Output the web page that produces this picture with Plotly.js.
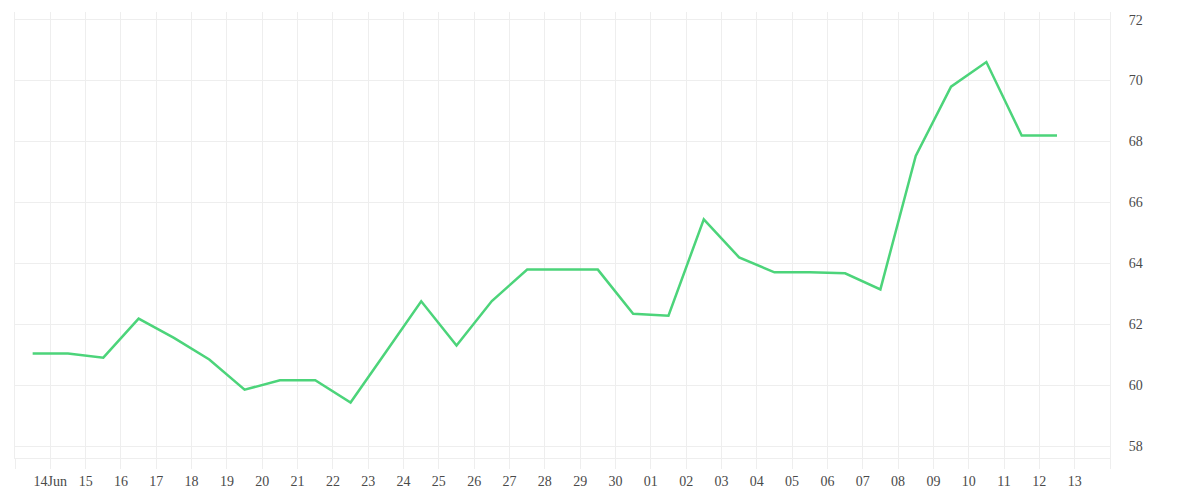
<!DOCTYPE html>
<html>
<head>
<meta charset="utf-8">
<script src="https://cdn.plot.ly/plotly-3.0.1.min.js"></script>
<style>html,body{margin:0;padding:0;background:#fff;}#chart{width:1200px;height:500px;}</style>
</head>
<body>
<div id="chart"></div>
<script>
const dates = ["2024-06-13 12:00","2024-06-14 12:00","2024-06-15 12:00","2024-06-16 12:00","2024-06-17 12:00","2024-06-18 12:00","2024-06-19 12:00","2024-06-20 12:00","2024-06-21 12:00","2024-06-22 12:00","2024-06-23 12:00","2024-06-24 12:00","2024-06-25 12:00","2024-06-26 12:00","2024-06-27 12:00","2024-06-28 12:00","2024-06-29 12:00","2024-06-30 12:00","2024-07-01 12:00","2024-07-02 12:00","2024-07-03 12:00","2024-07-04 12:00","2024-07-05 12:00","2024-07-06 12:00","2024-07-07 12:00","2024-07-08 12:00","2024-07-09 12:00","2024-07-10 12:00","2024-07-11 12:00","2024-07-12 12:00"];
const values = [61.05,61.05,60.91,62.19,61.56,60.85,59.86,60.17,60.17,59.44,61.10,62.76,61.31,62.77,63.80,63.80,63.80,62.35,62.29,65.45,64.20,63.71,63.71,63.68,63.15,67.53,69.80,70.61,68.20,68.20];
const tickDates = ["2024-06-13","2024-06-14","2024-06-15","2024-06-16","2024-06-17","2024-06-18","2024-06-19","2024-06-20","2024-06-21","2024-06-22","2024-06-23","2024-06-24","2024-06-25","2024-06-26","2024-06-27","2024-06-28","2024-06-29","2024-06-30","2024-07-01","2024-07-02","2024-07-03","2024-07-04","2024-07-05","2024-07-06","2024-07-07","2024-07-08","2024-07-09","2024-07-10","2024-07-11","2024-07-12","2024-07-13","2024-07-14"];
const tickLabels = ["","14Jun","15","16","17","18","19","20","21","22","23","24","25","26","27","28","29","30","01","02","03","04","05","06","07","08","09","10","11","12","13",""];
const yTicks = [58,60,62,64,66,68,70,72];

const trace = {
  x: dates, y: values, type: 'scatter', mode: 'lines',
  line: {color: '#4cd47a', width: 2.5},
  hoverinfo: 'x+y'
};
const layout = {
  width: 1200, height: 500,
  margin: {l: 15, r: 90, t: 12, b: 42},
  paper_bgcolor: '#ffffff', plot_bgcolor: '#ffffff',
  font: {family: '"Liberation Serif", serif', size: 14, color: '#4a4a4a'},
  showlegend: false,
  xaxis: {
    type: 'date',
    range: ["2024-06-13", "2024-07-14"],
    tickmode: 'array', tickvals: tickDates, ticktext: tickLabels,
    showgrid: true, gridcolor: '#eeeeee', gridwidth: 1,
    showline: true, linecolor: '#eeeeee', linewidth: 1,
    ticks: 'outside', ticklen: 10, tickcolor: '#eeeeee', tickwidth: 1,
    zeroline: false, fixedrange: true
  },
  yaxis: {
    side: 'right',
    range: [57.62, 72.25],
    tickmode: 'array', tickvals: yTicks,
    showgrid: true, gridcolor: '#eeeeee', gridwidth: 1,
    showline: true, mirror: true, linecolor: '#eeeeee', linewidth: 1,
    ticks: '', ticklabelstandoff: 15,
    zeroline: false, fixedrange: true
  }
};
Plotly.newPlot('chart', [trace], layout, {displayModeBar: false, staticPlot: true});
</script>
</body>
</html>
